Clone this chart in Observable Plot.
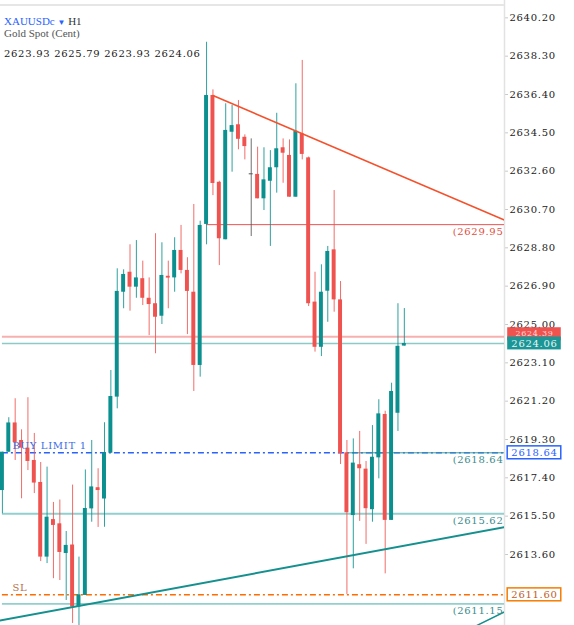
<!DOCTYPE html>
<html><head><meta charset="utf-8">
<script src="https://cdn.jsdelivr.net/npm/d3@7"></script>
<script src="https://cdn.jsdelivr.net/npm/@observablehq/plot@0.6"></script>
<style>
body{margin:0;background:#fff;}
#wrap{position:relative;width:574px;height:625px;overflow:hidden;background:#fff;}
#topbar{position:absolute;left:0;top:4px;width:504px;height:2px;background:#e6e6e6;}
.hl{position:absolute;left:4px;white-space:nowrap;}
#l1{top:15px;font-family:'Liberation Serif';font-size:11px;line-height:13px;}
#sym{color:#2962ff;}
#arrow{color:#2962ff;font-size:8px;}
#tf{color:#333;}
#l2{top:27px;font-family:'Liberation Serif';font-size:11px;line-height:13px;color:#555;}
#l3{top:47px;font-family:'DejaVu Serif';font-size:10px;line-height:13px;letter-spacing:0.7px;color:#1a1a1a;}
</style></head><body>
<div id="wrap">
<div id="chart"></div>
<div id="topbar"></div>
<div id="l1" class="hl"><span id="sym"></span> <span id="arrow">▼</span> <span id="tf"></span></div>
<div id="l2" class="hl"></div>
<div id="l3" class="hl"></div>
</div>
<script>
// ---- data ----
const symbolName = "XAUUSDc";
const timeframe = "H1";
const description = "Gold Spot (Cent)";
const ohlcNow = [2623.93, 2625.79, 2623.93, 2624.06];

const opens  = [2616.77,2618.67,2620.12,2619.25,2618.87,2618.26,2617.17,2613.47,2615.33,2615.12,
                2613.65,2614.07,2611.00,2611.57,2615.86,2616.91,2616.35,2618.62,2621.40,2626.60,
                2627.59,2626.85,2627.27,2626.30,2626.03,2625.41,2627.39,2627.31,2628.67,2627.68,
                2626.60,2622.97,2629.96,2636.35,2632.05,2629.20,2634.53,2634.90,2634.28,2632.47,
                2632.44,2631.23,2632.10,2632.77,2633.76,2633.38,2631.31,2634.45,2633.26,2626.11,
                2623.87,2626.65,2628.70,2626.22,2618.64,2615.53,2618.05,2617.83,2615.82,2618.39,
                2620.54,2615.29,2620.60,2623.93];
const highs  = [2618.67,2620.38,2621.32,2619.78,2621.37,2619.60,2618.16,2617.93,2616.18,2616.30,
                2614.74,2617.04,2613.47,2617.79,2619.25,2617.85,2620.13,2622.72,2627.76,2627.71,
                2628.95,2629.16,2628.14,2627.31,2629.50,2629.05,2628.14,2629.30,2629.91,2628.31,
                2630.95,2630.12,2638.99,2636.63,2632.10,2635.94,2635.86,2636.10,2634.40,2634.20,
                2633.79,2633.76,2633.62,2635.47,2634.20,2634.15,2636.93,2638.09,2633.30,2627.59,
                2627.96,2628.87,2631.64,2627.13,2619.25,2619.33,2619.70,2618.21,2619.99,2621.27,
                2620.70,2622.09,2626.03,2625.79];
const lows   = [2615.62,2618.66,2618.26,2616.36,2617.76,2616.62,2613.25,2613.15,2612.40,2612.31,
                2611.32,2610.18,2609.90,2611.57,2615.20,2614.94,2614.95,2618.62,2620.82,2625.78,
                2625.66,2626.30,2625.94,2624.45,2623.55,2625.00,2625.78,2626.60,2627.51,2624.50,
                2621.68,2622.39,2628.95,2631.39,2627.92,2629.20,2632.55,2633.66,2633.16,2629.36,
                2631.23,2630.65,2628.87,2631.51,2632.00,2631.31,2631.31,2633.16,2625.89,2623.63,
                2623.41,2625.11,2625.61,2618.06,2611.62,2612.89,2615.24,2614.10,2615.20,2617.35,
                2612.64,2615.29,2619.70,2623.93];
const closes = [2618.67,2620.12,2619.15,2618.87,2618.21,2617.14,2613.47,2615.45,2615.04,2613.70,
                2614.05,2610.99,2611.60,2615.88,2616.95,2616.77,2618.64,2621.43,2626.64,2627.48,
                2626.85,2627.31,2626.30,2625.99,2625.36,2627.43,2627.30,2628.67,2627.68,2626.64,
                2622.97,2629.91,2636.35,2631.99,2629.25,2634.62,2634.86,2634.18,2633.82,2632.47,
                2631.23,2632.17,2632.77,2633.71,2633.49,2631.31,2634.58,2633.43,2626.03,2623.87,
                2626.60,2628.62,2626.22,2618.59,2615.67,2618.13,2617.85,2615.87,2618.42,2620.57,
                2615.29,2621.68,2623.92,2624.06];

const yTicks = [2613.60,2615.50,2617.40,2619.30,2621.20,2623.10,2625.00,2626.90,2628.80,
                2630.70,2632.60,2634.50,2636.40,2638.30,2640.20];

// horizontal levels
const levelPrices = [2629.95, 2624.39, 2624.06, 2618.64, 2618.64, 2615.62, 2611.60, 2611.15];
const levelStarts = [32, 0, 0, 0, 54, 0, 0, 0];
const levelKinds  = ["red", "ask", "bid", "buy", "tealthin", "teal", "sl", "teal"];

// line labels
const lineLabelTexts  = ["(2629.95", "(2618.64", "(2615.62", "(2611.15"];
const lineLabelPrices = [2629.95, 2618.64, 2615.62, 2611.15];
const lineLabelKinds  = ["red", "teal", "teal", "teal"];
const orderTexts  = ["BUY LIMIT 1", "SL"];
const orderPrices = [2618.64, 2611.60];

// trendlines (bar index, price)
const redTrendX = [33, 80],  redTrendY = [2636.35, 2630.00];
const tealTrendX = [-1, 80], tealTrendY = [2610.29, 2615.03];
const teal2TrendX = [72, 80], teal2TrendY = [2609.71, 2610.96];

// price-axis boxes
const boxPrices = [2624.39, 2624.06, 2618.64, 2611.60];
const boxKinds  = ["redfill", "tealfill", "blueline", "orangeline"];

// ---- header ----
document.getElementById("sym").textContent = symbolName;
document.getElementById("tf").textContent = timeframe;
document.getElementById("l2").textContent = description;
document.getElementById("l3").textContent = ohlcNow.map(v => v.toFixed(2)).join(" ");

// ---- chart ----
const BULL = "#0b8f8f", BEAR = "#ef5350", DOJI = "#555";
const candles = opens.map((o, i) => ({i, o, h: highs[i], l: lows[i], c: closes[i]}));
const col = d => d.c > d.o ? BULL : d.c < d.o ? BEAR : DOJI;
const HW = 0.31;
const XD = [-0.3, 78.7];

const levelStyle = {
  red:      {stroke: "#ef5350", w: 1, dash: null},
  ask:      {stroke: "#f7b0b0", w: 2, dash: null},
  bid:      {stroke: "#8ccac8", w: 1.5, dash: null},
  buy:      {stroke: "#2962ff", w: 1.5, dash: "6,3,2,3"},
  tealthin: {stroke: "#3a9a9a", w: 1, dash: null},
  teal:     {stroke: "#92cfcd", w: 1.8, dash: null},
  sl:       {stroke: "#ff6d00", w: 1.5, dash: "6,3,2,3"}
};
const levels = levelPrices.map((p, k) => ({p, s: levelStarts[k], ...levelStyle[levelKinds[k]]}));

const labelColor = {red: "#e0503f", teal: "#3d8c8c"};
const lineLabels = lineLabelTexts.map((t, k) => ({t, p: lineLabelPrices[k], f: labelColor[lineLabelKinds[k]]}));
const orders = orderTexts.map((t, k) => ({t, p: orderPrices[k], f: k === 0 ? "#3a6ee6" : "#b5714f"}));

// box geometry: [bottom offset, top offset] in price units, text offset px, font size
const boxStyle = {
  redfill:    {fill: "#ef5350", stroke: "none", text: "#fbd9d9", lo: -0.2, hi: 0.45, ty: -3.5, fs: 8},
  tealfill:   {fill: "#1a9696", stroke: "none", text: "#e6f4f4", lo: -0.32, hi: 0.32, ty: 0.5, fs: 10},
  blueline:   {fill: "#ffffff", stroke: "#2962ff", text: "#2962ff", lo: -0.32, hi: 0.32, ty: 0, fs: 10},
  orangeline: {fill: "#ffffff", stroke: "#f57c00", text: "#c0602a", lo: -0.32, hi: 0.32, ty: 0, fs: 10}
};
const boxes = boxPrices.map((p, k) => ({p, ...boxStyle[boxKinds[k]]}));
const BX1 = 79.2, BX2 = 87.6, BXM = 83.4;

const trend = (xs, ys) => xs.map((x, k) => ({x, y: ys[k]}));

const chart = Plot.plot({
  width: 574, height: 625,
  marginLeft: 0, marginRight: 70, marginTop: 0, marginBottom: 0,
  style: "font-family:'DejaVu Serif';font-size:10px;letter-spacing:0.7px;color:#222;background:#fff;overflow:visible;",
  x: {domain: XD, axis: null},
  y: {domain: [2610.08, 2641.06], axis: "right", ticks: yTicks, tickFormat: d => d.toFixed(2),
      tickSize: 3, tickPadding: 2, label: null},
  marks: [
    Plot.ruleX([XD[1]], {stroke: "#e2e2e2", strokeWidth: 1.5}),
    ...levels.map(L => Plot.ruleY([L], {y: "p", x1: d => d.s, x2: () => XD[1], stroke: L.stroke,
        strokeWidth: L.w, strokeDasharray: L.dash || undefined})),
    Plot.ruleX(candles, {x: "i", y1: "l", y2: "h", stroke: col, strokeWidth: 1, strokeOpacity: 0.85, clip: true}),
    Plot.rect(candles.filter(d => d.o !== d.c), {x1: d => d.i - HW, x2: d => d.i + HW, y1: "o", y2: "c", fill: col, clip: true}),
    Plot.ruleY(candles.filter(d => d.o === d.c), {y: "o", x1: d => d.i - HW, x2: d => d.i + HW, stroke: DOJI, strokeWidth: 1}),
    Plot.line(trend(redTrendX, redTrendY), {x: "x", y: "y", stroke: "#f4512c", strokeWidth: 1.6, clip: true}),
    Plot.line(trend(tealTrendX, tealTrendY), {x: "x", y: "y", stroke: "#14908e", strokeWidth: 2, clip: true}),
    Plot.line(trend(teal2TrendX, teal2TrendY), {x: "x", y: "y", stroke: "#14908e", strokeWidth: 1.5, clip: true}),
    Plot.text(lineLabels, {y: "p", text: "t", frameAnchor: "right", dx: -1, dy: 7, textAnchor: "end", fill: "f"}),
    Plot.text(orders, {y: "p", text: "t", frameAnchor: "left", dx: 12, dy: -7, textAnchor: "start", fill: "f"}),
    ...boxes.map(b => Plot.rect([b], {x1: () => BX1, x2: () => BX2, y1: d => d.p + d.lo, y2: d => d.p + d.hi,
        fill: b.fill, stroke: b.stroke, strokeWidth: 1.5})),
    ...boxes.map(b => Plot.text([b], {x: () => BXM, y: "p", dy: b.ty, text: d => d.p.toFixed(2), fill: b.text,
        fontSize: b.fs, textAnchor: "middle"}))
  ]
});
chart.querySelectorAll('g[aria-label="y-axis tick"] path, g[aria-label="y-axis"] g.tick line').forEach(e => e.setAttribute("stroke", "#c8c8c8"));
document.getElementById("chart").appendChild(chart);
</script>
</body></html>
